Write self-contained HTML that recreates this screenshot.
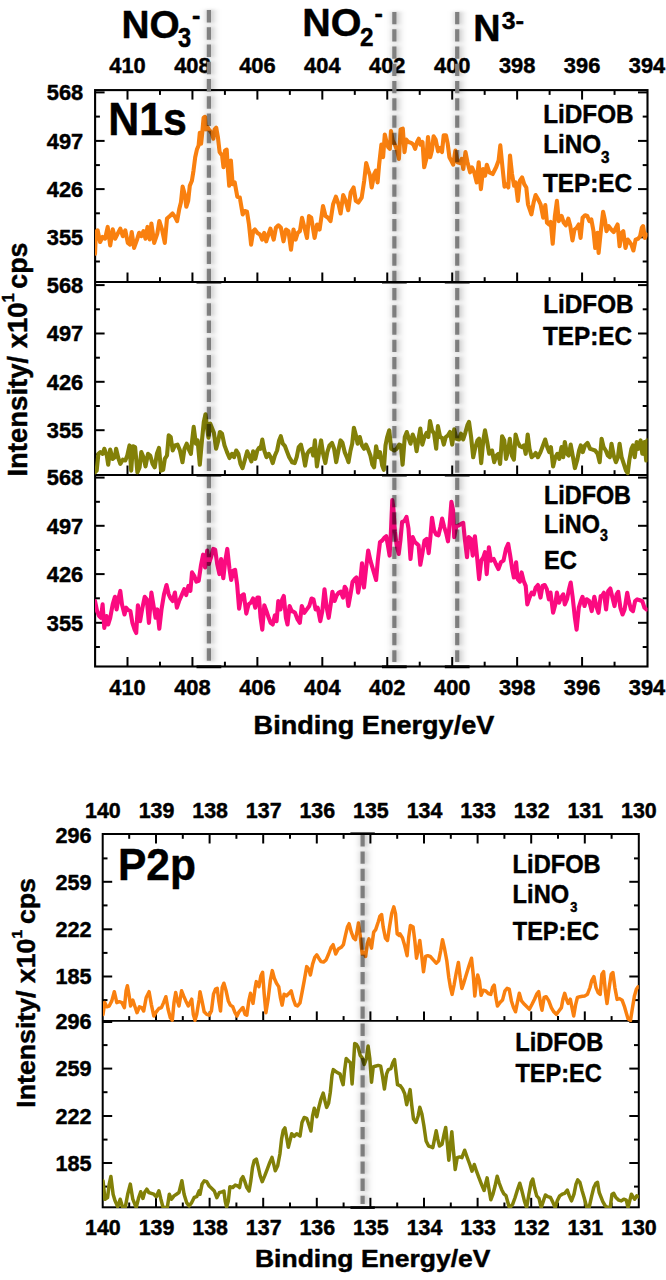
<!DOCTYPE html>
<html><head><meta charset="utf-8"><title>XPS spectra</title>
<style>html,body{margin:0;padding:0;background:#fff;}svg{display:block;}</style></head>
<body>
<svg width="666" height="1280" viewBox="0 0 666 1280" font-family="&apos;Liberation Sans&apos;, sans-serif" font-weight="bold" fill="#000">
<style>text{stroke:#000;stroke-width:0.45px;stroke-linejoin:round}</style>
<defs><filter id="bl" filterUnits="userSpaceOnUse" x="0" y="0" width="666" height="1280"><feGaussianBlur stdDeviation="2.4 1.2"/></filter>
<filter id="bl2" filterUnits="userSpaceOnUse" x="0" y="0" width="666" height="1280"><feGaussianBlur stdDeviation="3.2 1.5"/></filter>
<clipPath id="c1"><rect x="95" y="90" width="552.5" height="577"/></clipPath>
<clipPath id="c2a"><rect x="103" y="834" width="535.8" height="188.2"/></clipPath>
<clipPath id="c2b"><rect x="103" y="1020.7" width="535.8" height="187.2"/></clipPath>
<clipPath id="ctop"><rect x="0" y="0" width="666" height="92"/></clipPath>
<clipPath id="cbot"><rect x="0" y="92" width="666" height="1188"/></clipPath>
</defs>
<rect width="666" height="1280" fill="#fff"/>
<rect x="95.1" y="90.1" width="552.4" height="576.4" fill="none" stroke="#000" stroke-width="2.1"/>
<line x1="95.10" y1="282.00" x2="647.50" y2="282.00" stroke="#000" stroke-width="1.8" />
<line x1="95.10" y1="475.00" x2="647.50" y2="475.00" stroke="#000" stroke-width="1.8" />
<line x1="196.50" y1="282.30" x2="221.30" y2="282.30" stroke="#000" stroke-width="2.4" />
<line x1="196.50" y1="475.30" x2="221.30" y2="475.30" stroke="#000" stroke-width="2.4" />
<line x1="196.50" y1="666.80" x2="221.30" y2="666.80" stroke="#000" stroke-width="2.9" />
<line x1="381.95" y1="282.30" x2="406.75" y2="282.30" stroke="#000" stroke-width="2.4" />
<line x1="381.95" y1="475.30" x2="406.75" y2="475.30" stroke="#000" stroke-width="2.4" />
<line x1="381.95" y1="666.80" x2="406.75" y2="666.80" stroke="#000" stroke-width="2.9" />
<line x1="444.80" y1="282.30" x2="469.60" y2="282.30" stroke="#000" stroke-width="2.4" />
<line x1="444.80" y1="475.30" x2="469.60" y2="475.30" stroke="#000" stroke-width="2.4" />
<line x1="444.80" y1="666.80" x2="469.60" y2="666.80" stroke="#000" stroke-width="2.9" />
<line x1="614.55" y1="90.10" x2="614.55" y2="94.90" stroke="#000" stroke-width="2.0" />
<line x1="614.55" y1="282.00" x2="614.55" y2="277.20" stroke="#000" stroke-width="2.0" />
<line x1="614.55" y1="475.00" x2="614.55" y2="470.20" stroke="#000" stroke-width="2.0" />
<line x1="614.55" y1="666.50" x2="614.55" y2="661.70" stroke="#000" stroke-width="2.0" />
<line x1="582.08" y1="90.10" x2="582.08" y2="99.60" stroke="#000" stroke-width="2.0" />
<line x1="582.08" y1="282.00" x2="582.08" y2="272.50" stroke="#000" stroke-width="2.0" />
<line x1="582.08" y1="475.00" x2="582.08" y2="465.50" stroke="#000" stroke-width="2.0" />
<line x1="582.08" y1="666.50" x2="582.08" y2="657.00" stroke="#000" stroke-width="2.0" />
<line x1="549.61" y1="90.10" x2="549.61" y2="94.90" stroke="#000" stroke-width="2.0" />
<line x1="549.61" y1="282.00" x2="549.61" y2="277.20" stroke="#000" stroke-width="2.0" />
<line x1="549.61" y1="475.00" x2="549.61" y2="470.20" stroke="#000" stroke-width="2.0" />
<line x1="549.61" y1="666.50" x2="549.61" y2="661.70" stroke="#000" stroke-width="2.0" />
<line x1="517.14" y1="90.10" x2="517.14" y2="99.60" stroke="#000" stroke-width="2.0" />
<line x1="517.14" y1="282.00" x2="517.14" y2="272.50" stroke="#000" stroke-width="2.0" />
<line x1="517.14" y1="475.00" x2="517.14" y2="465.50" stroke="#000" stroke-width="2.0" />
<line x1="517.14" y1="666.50" x2="517.14" y2="657.00" stroke="#000" stroke-width="2.0" />
<line x1="484.67" y1="90.10" x2="484.67" y2="94.90" stroke="#000" stroke-width="2.0" />
<line x1="484.67" y1="282.00" x2="484.67" y2="277.20" stroke="#000" stroke-width="2.0" />
<line x1="484.67" y1="475.00" x2="484.67" y2="470.20" stroke="#000" stroke-width="2.0" />
<line x1="484.67" y1="666.50" x2="484.67" y2="661.70" stroke="#000" stroke-width="2.0" />
<line x1="452.20" y1="90.10" x2="452.20" y2="99.60" stroke="#000" stroke-width="2.0" />
<line x1="452.20" y1="282.00" x2="452.20" y2="272.50" stroke="#000" stroke-width="2.0" />
<line x1="452.20" y1="475.00" x2="452.20" y2="465.50" stroke="#000" stroke-width="2.0" />
<line x1="452.20" y1="666.50" x2="452.20" y2="657.00" stroke="#000" stroke-width="2.0" />
<line x1="419.73" y1="90.10" x2="419.73" y2="94.90" stroke="#000" stroke-width="2.0" />
<line x1="419.73" y1="282.00" x2="419.73" y2="277.20" stroke="#000" stroke-width="2.0" />
<line x1="419.73" y1="475.00" x2="419.73" y2="470.20" stroke="#000" stroke-width="2.0" />
<line x1="419.73" y1="666.50" x2="419.73" y2="661.70" stroke="#000" stroke-width="2.0" />
<line x1="387.26" y1="90.10" x2="387.26" y2="99.60" stroke="#000" stroke-width="2.0" />
<line x1="387.26" y1="282.00" x2="387.26" y2="272.50" stroke="#000" stroke-width="2.0" />
<line x1="387.26" y1="475.00" x2="387.26" y2="465.50" stroke="#000" stroke-width="2.0" />
<line x1="387.26" y1="666.50" x2="387.26" y2="657.00" stroke="#000" stroke-width="2.0" />
<line x1="354.79" y1="90.10" x2="354.79" y2="94.90" stroke="#000" stroke-width="2.0" />
<line x1="354.79" y1="282.00" x2="354.79" y2="277.20" stroke="#000" stroke-width="2.0" />
<line x1="354.79" y1="475.00" x2="354.79" y2="470.20" stroke="#000" stroke-width="2.0" />
<line x1="354.79" y1="666.50" x2="354.79" y2="661.70" stroke="#000" stroke-width="2.0" />
<line x1="322.32" y1="90.10" x2="322.32" y2="99.60" stroke="#000" stroke-width="2.0" />
<line x1="322.32" y1="282.00" x2="322.32" y2="272.50" stroke="#000" stroke-width="2.0" />
<line x1="322.32" y1="475.00" x2="322.32" y2="465.50" stroke="#000" stroke-width="2.0" />
<line x1="322.32" y1="666.50" x2="322.32" y2="657.00" stroke="#000" stroke-width="2.0" />
<line x1="289.85" y1="90.10" x2="289.85" y2="94.90" stroke="#000" stroke-width="2.0" />
<line x1="289.85" y1="282.00" x2="289.85" y2="277.20" stroke="#000" stroke-width="2.0" />
<line x1="289.85" y1="475.00" x2="289.85" y2="470.20" stroke="#000" stroke-width="2.0" />
<line x1="289.85" y1="666.50" x2="289.85" y2="661.70" stroke="#000" stroke-width="2.0" />
<line x1="257.38" y1="90.10" x2="257.38" y2="99.60" stroke="#000" stroke-width="2.0" />
<line x1="257.38" y1="282.00" x2="257.38" y2="272.50" stroke="#000" stroke-width="2.0" />
<line x1="257.38" y1="475.00" x2="257.38" y2="465.50" stroke="#000" stroke-width="2.0" />
<line x1="257.38" y1="666.50" x2="257.38" y2="657.00" stroke="#000" stroke-width="2.0" />
<line x1="224.91" y1="90.10" x2="224.91" y2="94.90" stroke="#000" stroke-width="2.0" />
<line x1="224.91" y1="282.00" x2="224.91" y2="277.20" stroke="#000" stroke-width="2.0" />
<line x1="224.91" y1="475.00" x2="224.91" y2="470.20" stroke="#000" stroke-width="2.0" />
<line x1="224.91" y1="666.50" x2="224.91" y2="661.70" stroke="#000" stroke-width="2.0" />
<line x1="192.44" y1="90.10" x2="192.44" y2="99.60" stroke="#000" stroke-width="2.0" />
<line x1="192.44" y1="282.00" x2="192.44" y2="272.50" stroke="#000" stroke-width="2.0" />
<line x1="192.44" y1="475.00" x2="192.44" y2="465.50" stroke="#000" stroke-width="2.0" />
<line x1="192.44" y1="666.50" x2="192.44" y2="657.00" stroke="#000" stroke-width="2.0" />
<line x1="159.97" y1="90.10" x2="159.97" y2="94.90" stroke="#000" stroke-width="2.0" />
<line x1="159.97" y1="282.00" x2="159.97" y2="277.20" stroke="#000" stroke-width="2.0" />
<line x1="159.97" y1="475.00" x2="159.97" y2="470.20" stroke="#000" stroke-width="2.0" />
<line x1="159.97" y1="666.50" x2="159.97" y2="661.70" stroke="#000" stroke-width="2.0" />
<line x1="127.50" y1="90.10" x2="127.50" y2="99.60" stroke="#000" stroke-width="2.0" />
<line x1="127.50" y1="282.00" x2="127.50" y2="272.50" stroke="#000" stroke-width="2.0" />
<line x1="127.50" y1="475.00" x2="127.50" y2="465.50" stroke="#000" stroke-width="2.0" />
<line x1="127.50" y1="666.50" x2="127.50" y2="657.00" stroke="#000" stroke-width="2.0" />
<line x1="95.10" y1="92.40" x2="104.60" y2="92.40" stroke="#000" stroke-width="2.0" />
<line x1="647.50" y1="92.40" x2="638.00" y2="92.40" stroke="#000" stroke-width="2.0" />
<line x1="95.10" y1="116.60" x2="99.90" y2="116.60" stroke="#000" stroke-width="2.0" />
<line x1="647.50" y1="116.60" x2="642.70" y2="116.60" stroke="#000" stroke-width="2.0" />
<line x1="95.10" y1="140.90" x2="104.60" y2="140.90" stroke="#000" stroke-width="2.0" />
<line x1="647.50" y1="140.90" x2="638.00" y2="140.90" stroke="#000" stroke-width="2.0" />
<line x1="95.10" y1="165.10" x2="99.90" y2="165.10" stroke="#000" stroke-width="2.0" />
<line x1="647.50" y1="165.10" x2="642.70" y2="165.10" stroke="#000" stroke-width="2.0" />
<line x1="95.10" y1="189.10" x2="104.60" y2="189.10" stroke="#000" stroke-width="2.0" />
<line x1="647.50" y1="189.10" x2="638.00" y2="189.10" stroke="#000" stroke-width="2.0" />
<line x1="95.10" y1="213.30" x2="99.90" y2="213.30" stroke="#000" stroke-width="2.0" />
<line x1="647.50" y1="213.30" x2="642.70" y2="213.30" stroke="#000" stroke-width="2.0" />
<line x1="95.10" y1="237.30" x2="104.60" y2="237.30" stroke="#000" stroke-width="2.0" />
<line x1="647.50" y1="237.30" x2="638.00" y2="237.30" stroke="#000" stroke-width="2.0" />
<line x1="95.10" y1="261.50" x2="99.90" y2="261.50" stroke="#000" stroke-width="2.0" />
<line x1="647.50" y1="261.50" x2="642.70" y2="261.50" stroke="#000" stroke-width="2.0" />
<line x1="95.10" y1="285.10" x2="104.60" y2="285.10" stroke="#000" stroke-width="2.0" />
<line x1="647.50" y1="285.10" x2="638.00" y2="285.10" stroke="#000" stroke-width="2.0" />
<line x1="95.10" y1="309.30" x2="99.90" y2="309.30" stroke="#000" stroke-width="2.0" />
<line x1="647.50" y1="309.30" x2="642.70" y2="309.30" stroke="#000" stroke-width="2.0" />
<line x1="95.10" y1="333.50" x2="104.60" y2="333.50" stroke="#000" stroke-width="2.0" />
<line x1="647.50" y1="333.50" x2="638.00" y2="333.50" stroke="#000" stroke-width="2.0" />
<line x1="95.10" y1="357.70" x2="99.90" y2="357.70" stroke="#000" stroke-width="2.0" />
<line x1="647.50" y1="357.70" x2="642.70" y2="357.70" stroke="#000" stroke-width="2.0" />
<line x1="95.10" y1="381.80" x2="104.60" y2="381.80" stroke="#000" stroke-width="2.0" />
<line x1="647.50" y1="381.80" x2="638.00" y2="381.80" stroke="#000" stroke-width="2.0" />
<line x1="95.10" y1="406.00" x2="99.90" y2="406.00" stroke="#000" stroke-width="2.0" />
<line x1="647.50" y1="406.00" x2="642.70" y2="406.00" stroke="#000" stroke-width="2.0" />
<line x1="95.10" y1="430.20" x2="104.60" y2="430.20" stroke="#000" stroke-width="2.0" />
<line x1="647.50" y1="430.20" x2="638.00" y2="430.20" stroke="#000" stroke-width="2.0" />
<line x1="95.10" y1="454.40" x2="99.90" y2="454.40" stroke="#000" stroke-width="2.0" />
<line x1="647.50" y1="454.40" x2="642.70" y2="454.40" stroke="#000" stroke-width="2.0" />
<line x1="95.10" y1="477.60" x2="104.60" y2="477.60" stroke="#000" stroke-width="2.0" />
<line x1="647.50" y1="477.60" x2="638.00" y2="477.60" stroke="#000" stroke-width="2.0" />
<line x1="95.10" y1="501.80" x2="99.90" y2="501.80" stroke="#000" stroke-width="2.0" />
<line x1="647.50" y1="501.80" x2="642.70" y2="501.80" stroke="#000" stroke-width="2.0" />
<line x1="95.10" y1="525.80" x2="104.60" y2="525.80" stroke="#000" stroke-width="2.0" />
<line x1="647.50" y1="525.80" x2="638.00" y2="525.80" stroke="#000" stroke-width="2.0" />
<line x1="95.10" y1="550.00" x2="99.90" y2="550.00" stroke="#000" stroke-width="2.0" />
<line x1="647.50" y1="550.00" x2="642.70" y2="550.00" stroke="#000" stroke-width="2.0" />
<line x1="95.10" y1="574.10" x2="104.60" y2="574.10" stroke="#000" stroke-width="2.0" />
<line x1="647.50" y1="574.10" x2="638.00" y2="574.10" stroke="#000" stroke-width="2.0" />
<line x1="95.10" y1="598.30" x2="99.90" y2="598.30" stroke="#000" stroke-width="2.0" />
<line x1="647.50" y1="598.30" x2="642.70" y2="598.30" stroke="#000" stroke-width="2.0" />
<line x1="95.10" y1="622.80" x2="104.60" y2="622.80" stroke="#000" stroke-width="2.0" />
<line x1="647.50" y1="622.80" x2="638.00" y2="622.80" stroke="#000" stroke-width="2.0" />
<line x1="95.10" y1="647.00" x2="99.90" y2="647.00" stroke="#000" stroke-width="2.0" />
<line x1="647.50" y1="647.00" x2="642.70" y2="647.00" stroke="#000" stroke-width="2.0" />
<g clip-path="url(#c1)">
<polyline points="95.0,253.8 95.9,232.0 97.6,230.3 100.1,242.0 102.6,237.0 105.1,238.7 107.7,226.9 110.2,245.4 112.7,229.4 115.2,238.7 117.7,233.6 120.3,228.6 122.8,236.2 125.3,230.3 127.8,242.9 130.0,244.6 131.7,232.0 134.1,247.9 136.8,240.4 139.1,232.8 141.3,236.2 143.5,231.1 145.5,238.7 147.5,226.9 149.7,239.5 151.4,223.5 154.2,242.9 157.3,233.6 159.3,221.0 162.0,229.4 164.8,242.9 167.0,218.5 169.9,216.0 172.5,213.5 175.0,216.9 177.1,221.1 179.2,209.3 180.9,202.6 182.6,186.6 184.8,194.2 186.3,206.8 188.2,200.9 189.8,185.8 191.9,180.7 193.5,170.6 195.2,157.2 196.9,149.6 198.6,145.4 199.8,132.8 201.1,143.7 202.5,130.3 203.6,117.7 205.0,116.8 205.8,129.4 207.3,126.9 209.5,130.3 212.0,133.6 213.4,138.7 214.6,129.4 216.2,127.7 217.9,137.0 219.6,152.1 222.1,155.5 223.5,167.3 225.0,150.5 226.7,149.6 228.0,170.6 229.2,185.8 230.9,160.5 232.6,184.1 234.7,182.4 237.3,196.7 239.8,197.5 242.7,214.4 244.8,211.0 247.0,211.8 249.0,224.5 251.1,244.6 253.2,231.2 254.9,229.5 257.5,232.9 260.0,234.5 262.2,239.6 264.2,232.9 266.2,241.3 268.4,234.5 270.4,228.7 273.7,239.6 275.9,227.8 278.4,225.3 280.9,227.8 283.5,241.3 286.0,229.5 288.5,231.2 291.0,249.7 293.5,229.5 295.6,239.6 297.7,232.9 299.9,231.2 302.0,217.7 304.5,227.8 307.0,237.9 309.0,216.0 311.2,217.7 314.6,237.9 317.1,224.5 319.6,229.5 323.0,206.0 325.5,216.0 328.0,217.7 330.5,221.1 333.1,204.3 335.9,196.7 338.6,204.3 340.6,213.5 343.2,195.0 345.7,200.9 348.2,210.2 350.7,192.5 353.6,187.5 355.8,200.9 358.3,202.6 361.7,197.5 364.2,180.7 366.2,163.1 368.4,170.6 370.1,175.7 371.7,187.5 372.0,185.8 374.2,174.0 375.9,170.6 377.6,182.4 379.2,163.9 381.4,144.6 383.1,157.2 384.8,134.5 386.5,142.0 388.2,147.1 389.8,148.8 391.0,131.1 392.7,140.4 395.2,145.4 397.2,150.5 398.9,158.9 400.6,129.4 402.8,128.6 404.5,152.1 406.2,139.5 408.3,142.0 411.2,142.9 413.4,144.6 415.1,148.8 417.1,142.0 418.8,138.7 420.5,144.6 422.5,142.0 424.2,167.3 426.3,158.9 428.0,137.0 430.2,157.2 431.9,150.5 433.6,136.2 435.6,139.5 438.1,151.3 440.3,147.9 442.0,152.1 443.7,135.3 446.0,135.3 447.7,143.7 449.4,157.2 451.6,161.4 453.2,164.7 455.4,150.5 457.5,162.2 460.0,163.1 461.7,158.9 463.3,169.0 465.5,152.1 467.5,162.2 470.1,172.3 472.0,167.3 474.2,172.3 476.7,182.4 478.7,162.2 480.9,189.1 483.1,169.0 485.1,175.7 486.8,164.7 489.3,172.3 492.7,174.0 496.1,167.3 498.6,160.5 500.3,145.4 502.3,165.6 504.5,186.6 506.7,184.1 508.3,187.5 510.0,155.5 512.0,174.0 514.1,185.8 515.7,182.4 517.9,200.9 519.9,180.7 522.1,177.4 524.2,184.1 526.3,187.5 528.0,204.3 531.4,214.4 533.6,202.6 535.6,195.0 538.1,199.2 540.6,204.3 543.2,217.7 545.3,205.1 547.0,222.8 549.0,224.5 550.7,221.9 552.7,243.8 554.9,216.0 556.9,200.9 558.8,221.1 561.6,216.0 563.8,222.8 565.8,225.3 568.3,218.6 570.3,226.1 572.5,240.4 574.5,229.5 576.7,227.8 578.7,224.5 580.6,237.9 582.6,217.7 585.1,215.2 587.3,216.0 589.3,221.1 591.3,219.4 593.5,231.2 595.2,248.0 597.4,232.9 598.6,253.0 600.8,231.2 603.1,211.8 604.8,219.4 606.5,231.2 608.7,226.1 611.2,229.5 613.7,232.0 615.9,227.8 617.6,224.5 619.6,246.3 621.6,232.9 623.3,231.2 625.5,248.0 627.7,239.6 629.7,242.1 631.4,244.6 633.4,250.5 635.6,239.6 638.1,238.7 640.1,236.2 641.8,227.8 643.1,226.1 644.8,237.9 646.5,234.5" fill="none" stroke="#F9800F" stroke-width="4.1" stroke-linejoin="round" stroke-linecap="round"/>
<polyline points="95.0,472.3 96.7,470.6 98.4,453.8 100.4,452.1 102.6,453.8 104.3,448.8 106.8,455.5 108.2,464.7 110.2,449.6 112.7,458.9 114.9,457.2 116.1,448.8 118.3,458.0 120.3,463.9 122.8,459.7 125.3,460.5 127.3,455.5 129.5,445.4 131.2,470.6 132.9,446.2 135.1,447.1 137.4,472.3 139.6,467.3 141.3,452.1 143.5,457.2 145.5,466.4 148.0,453.8 150.2,455.5 152.6,463.9 154.7,467.3 156.9,453.8 159.0,447.9 161.0,470.6 163.2,469.8 164.8,458.9 167.0,455.5 168.7,435.3 170.7,437.0 172.7,450.5 174.9,445.4 177.5,444.6 180.0,450.5 182.5,462.2 184.5,448.8 186.7,443.7 188.9,449.6 190.9,453.8 192.0,442.0 193.7,426.9 195.9,443.7 197.6,440.4 199.8,464.7 201.8,442.0 203.8,421.9 205.5,414.3 207.2,428.6 208.5,437.8 210.2,423.5 211.9,427.7 213.9,432.8 216.1,448.8 218.3,440.4 219.9,432.0 222.0,433.6 224.5,445.4 227.0,452.1 229.5,458.0 232.0,453.8 234.1,457.2 236.2,450.5 238.4,453.8 240.5,463.9 242.5,468.1 244.7,460.5 247.2,451.3 249.7,457.2 251.4,461.4 253.1,451.3 255.3,458.9 257.3,450.5 259.0,447.9 260.6,448.8 262.3,439.5 264.3,450.5 266.5,457.2 268.7,453.8 270.7,457.2 272.7,463.1 274.9,455.5 277.1,450.5 279.1,440.4 280.8,436.2 282.8,443.7 285.0,446.2 287.2,452.1 289.2,457.2 291.7,461.4 292.0,462.2 294.7,463.1 296.7,457.2 298.7,447.1 300.9,444.6 303.1,453.8 305.1,465.6 307.2,453.8 309.3,450.5 311.5,448.8 313.2,455.5 314.9,440.4 316.9,466.4 318.9,453.8 321.1,440.4 323.1,453.8 325.3,463.1 327.3,452.1 329.5,445.4 332.0,442.9 334.1,448.8 336.2,462.2 338.4,450.5 340.5,440.4 342.5,442.9 344.7,452.1 346.8,457.2 348.5,462.2 350.5,450.5 352.2,443.7 353.9,427.7 355.9,435.3 357.6,443.7 359.8,437.0 362.0,445.4 364.0,448.8 366.0,444.6 368.2,449.6 370.4,455.5 372.4,464.7 374.1,467.3 376.1,446.2 378.3,457.2 380.0,452.1 382.2,465.6 383.8,469.8 385.5,445.4 387.2,437.0 389.2,430.3 391.2,448.8 394.2,450.5 396.7,448.8 399.2,444.6 400.9,445.4 402.6,464.7 404.8,437.0 406.8,432.0 408.8,438.7 410.5,443.7 412.7,434.5 414.9,440.4 416.6,451.3 418.3,440.4 420.3,428.6 422.3,444.6 424.5,437.0 426.7,432.8 428.3,437.0 430.0,421.0 432.0,430.3 434.1,433.6 436.2,448.8 437.9,426.1 440.1,437.0 442.1,437.8 443.8,444.6 445.8,437.0 448.0,435.3 450.0,432.0 452.2,444.6 454.2,429.4 456.4,438.7 459.0,439.5 461.0,433.6 463.2,439.5 465.3,432.8 467.4,425.2 469.0,421.9 471.1,437.0 473.2,457.2 475.4,447.1 477.5,440.4 479.1,438.7 481.2,463.1 483.3,440.4 485.0,430.3 487.2,442.0 489.2,453.8 491.7,451.3 492.0,450.5 494.2,462.2 496.4,455.5 498.4,453.8 500.1,463.9 502.1,436.2 504.3,440.4 506.0,458.9 508.2,450.5 509.8,438.7 511.9,455.5 513.9,459.7 515.6,434.5 517.7,442.0 519.9,446.2 522.0,447.1 524.0,445.4 525.7,453.8 527.7,434.5 529.5,448.8 531.7,457.2 533.7,455.5 535.7,453.0 537.9,457.2 540.5,452.1 543.0,445.4 545.2,439.5 547.2,447.1 549.2,452.1 550.9,447.1 553.1,466.4 555.3,457.2 557.3,453.8 559.3,458.9 561.5,447.1 563.2,457.2 564.8,442.0 567.0,453.8 568.7,455.5 570.7,444.6 572.7,455.5 574.9,468.1 577.1,460.5 579.1,450.5 580.8,445.4 582.8,452.1 585.0,445.4 587.5,442.9 590.1,448.8 592.6,449.6 595.1,450.5 597.6,453.8 599.7,462.2 601.6,438.7 603.6,447.1 605.8,450.5 607.8,455.5 609.8,457.2 611.5,443.7 613.7,455.5 615.9,462.2 617.9,457.2 619.6,443.7 621.6,457.2 623.8,463.9 626.0,470.6 627.7,473.2 629.3,460.5 631.4,448.8 633.0,445.4 634.7,457.2 636.7,442.0 638.4,448.8 640.6,440.4 642.3,453.8 644.5,442.0 646.2,460.5 647.3,440.4" fill="none" stroke="#828008" stroke-width="4.1" stroke-linejoin="round" stroke-linecap="round"/>
<polyline points="95.0,601.0 97.1,611.1 99.2,616.1 100.9,617.8 102.6,604.4 104.3,627.9 106.5,616.1 108.2,624.5 110.2,617.8 112.7,604.4 114.9,596.8 116.6,609.4 118.3,599.3 120.3,590.9 122.0,604.4 124.5,614.5 126.2,607.7 128.3,610.2 130.4,611.1 132.4,622.9 134.6,629.6 136.2,633.0 137.9,605.2 140.1,621.2 142.1,609.4 144.7,596.8 146.8,599.3 148.9,622.9 151.4,592.6 153.6,606.0 155.6,617.8 157.3,609.4 159.3,628.7 161.5,609.4 164.0,594.3 166.5,585.0 168.7,594.3 170.7,598.5 172.7,601.0 174.9,592.6 176.9,607.7 179.1,601.0 181.7,595.1 184.2,589.2 186.2,595.1 188.4,585.9 190.4,590.9 192.0,572.4 194.2,575.8 196.4,581.7 198.7,580.8 200.9,565.7 203.1,554.7 205.1,567.4 207.2,550.5 208.8,564.0 211.0,557.3 213.2,548.9 215.2,549.7 217.2,564.0 219.4,574.1 221.1,559.0 223.3,578.3 225.3,560.6 227.3,548.9 229.5,569.0 231.2,580.0 233.4,570.7 235.1,569.9 237.1,584.2 239.1,608.6 241.3,596.0 243.8,594.3 246.3,613.6 248.5,604.4 250.9,602.7 253.1,598.5 255.3,607.7 257.3,597.6 259.0,597.6 260.6,617.8 262.3,629.6 264.3,605.2 266.5,611.1 268.7,617.8 270.7,622.9 272.7,624.5 274.9,615.3 276.6,621.2 278.3,601.0 280.5,609.4 282.2,599.3 283.8,596.0 285.9,617.8 287.5,624.5 289.6,606.0 291.7,611.1 292.5,611.1 295.0,612.8 297.6,619.5 299.8,622.9 301.8,606.0 304.3,612.8 306.8,609.4 309.3,606.0 311.5,598.5 313.5,599.3 315.6,609.4 317.7,607.7 320.3,621.2 322.3,611.1 324.5,589.2 326.7,607.7 328.7,617.8 330.7,604.4 332.4,591.7 334.6,601.0 336.8,595.1 338.8,592.6 340.8,591.7 343.0,597.6 344.7,586.7 346.3,589.2 348.4,606.0 350.5,594.3 352.6,581.7 354.7,579.1 356.4,577.5 358.1,592.6 360.3,580.8 362.0,563.2 364.0,587.5 366.0,569.0 368.2,550.5 370.4,560.6 372.4,567.4 374.4,574.1 376.1,580.0 377.8,560.6 380.0,542.1 382.2,540.5 384.2,537.9 386.2,536.2 387.9,545.5 389.6,555.6 390.9,532.0 392.3,500.1 393.4,508.5 394.6,527.0 395.0,532.0 396.7,545.5 398.7,553.9 400.4,540.5 402.1,522.0 404.3,521.1 406.5,516.9 408.5,528.7 410.5,559.0 412.7,537.1 414.9,542.1 416.9,543.8 418.6,545.5 420.3,564.8 422.3,553.9 424.5,540.5 426.7,538.8 428.7,553.1 430.4,537.1 432.0,517.7 434.1,530.4 436.2,534.6 438.4,535.4 440.5,527.0 442.1,518.6 444.2,527.0 446.3,533.7 448.0,541.3 449.7,523.6 451.4,501.8 453.1,510.2 454.2,537.1 456.4,526.2 459.0,525.3 461.5,523.6 463.2,522.8 464.8,538.8 467.0,557.3 468.7,537.1 470.7,538.8 472.7,555.6 474.9,536.2 477.1,557.3 479.1,579.1 481.2,560.6 483.3,557.3 485.0,552.2 486.7,574.1 488.9,547.2 490.9,560.6 493.7,559.0 495.9,564.0 498.4,569.0 500.9,562.3 503.5,560.6 506.0,548.9 508.2,543.8 510.2,555.6 512.2,569.0 513.9,577.5 516.1,562.3 517.7,579.1 519.9,581.7 521.6,572.4 523.6,580.8 525.7,585.9 527.3,604.4 529.5,597.6 531.7,592.6 533.7,594.3 535.7,587.5 537.9,585.0 540.5,597.6 542.5,585.9 544.7,585.0 546.8,589.2 548.9,599.3 550.5,592.6 553.1,612.8 555.3,604.4 556.9,592.6 559.0,602.7 561.0,597.6 563.2,594.3 564.8,604.4 567.0,599.3 569.0,589.2 570.7,582.5 572.7,597.6 574.9,617.8 576.6,629.6 578.8,607.7 580.8,601.0 582.5,596.8 584.5,606.0 586.7,599.3 589.2,601.0 591.7,611.1 594.3,596.8 596.3,606.0 598.5,612.8 600.7,596.0 601.9,596.0 603.9,592.7 606.1,609.5 608.2,591.0 610.3,588.5 612.5,597.7 614.5,606.1 616.6,594.4 618.2,591.8 620.4,607.8 622.6,614.5 624.6,609.5 627.2,592.7 628.8,601.1 631.0,609.5 633.0,611.2 635.1,601.1 637.2,599.4 639.8,600.2 642.3,601.1 644.5,607.8 646.5,609.5" fill="none" stroke="#FB0A80" stroke-width="4.1" stroke-linejoin="round" stroke-linecap="round"/>
</g>
<text transform="translate(647.02,73.30) scale(0.98,1)" font-size="22.3" text-anchor="middle" >394</text>
<text transform="translate(647.02,695.00) scale(0.98,1)" font-size="22.3" text-anchor="middle" >394</text>
<text transform="translate(582.08,73.30) scale(0.98,1)" font-size="22.3" text-anchor="middle" >396</text>
<text transform="translate(582.08,695.00) scale(0.98,1)" font-size="22.3" text-anchor="middle" >396</text>
<text transform="translate(517.14,73.30) scale(0.98,1)" font-size="22.3" text-anchor="middle" >398</text>
<text transform="translate(517.14,695.00) scale(0.98,1)" font-size="22.3" text-anchor="middle" >398</text>
<text transform="translate(452.20,73.30) scale(0.98,1)" font-size="22.3" text-anchor="middle" >400</text>
<text transform="translate(452.20,695.00) scale(0.98,1)" font-size="22.3" text-anchor="middle" >400</text>
<text transform="translate(387.26,73.30) scale(0.98,1)" font-size="22.3" text-anchor="middle" >402</text>
<text transform="translate(387.26,695.00) scale(0.98,1)" font-size="22.3" text-anchor="middle" >402</text>
<text transform="translate(322.32,73.30) scale(0.98,1)" font-size="22.3" text-anchor="middle" >404</text>
<text transform="translate(322.32,695.00) scale(0.98,1)" font-size="22.3" text-anchor="middle" >404</text>
<text transform="translate(257.38,73.30) scale(0.98,1)" font-size="22.3" text-anchor="middle" >406</text>
<text transform="translate(257.38,695.00) scale(0.98,1)" font-size="22.3" text-anchor="middle" >406</text>
<text transform="translate(192.44,73.30) scale(0.98,1)" font-size="22.3" text-anchor="middle" >408</text>
<text transform="translate(192.44,695.00) scale(0.98,1)" font-size="22.3" text-anchor="middle" >408</text>
<text transform="translate(127.50,73.30) scale(0.98,1)" font-size="22.3" text-anchor="middle" >410</text>
<text transform="translate(127.50,695.00) scale(0.98,1)" font-size="22.3" text-anchor="middle" >410</text>
<text transform="translate(83.20,100.10) scale(0.98,1)" font-size="22.3" text-anchor="end" >568</text>
<text transform="translate(83.20,148.60) scale(0.98,1)" font-size="22.3" text-anchor="end" >497</text>
<text transform="translate(83.20,196.80) scale(0.98,1)" font-size="22.3" text-anchor="end" >426</text>
<text transform="translate(83.20,245.00) scale(0.98,1)" font-size="22.3" text-anchor="end" >355</text>
<text transform="translate(83.20,292.80) scale(0.98,1)" font-size="22.3" text-anchor="end" >568</text>
<text transform="translate(83.20,341.20) scale(0.98,1)" font-size="22.3" text-anchor="end" >497</text>
<text transform="translate(83.20,389.50) scale(0.98,1)" font-size="22.3" text-anchor="end" >426</text>
<text transform="translate(83.20,437.90) scale(0.98,1)" font-size="22.3" text-anchor="end" >355</text>
<text transform="translate(83.20,485.30) scale(0.98,1)" font-size="22.3" text-anchor="end" >568</text>
<text transform="translate(83.20,533.50) scale(0.98,1)" font-size="22.3" text-anchor="end" >497</text>
<text transform="translate(83.20,581.80) scale(0.98,1)" font-size="22.3" text-anchor="end" >426</text>
<text transform="translate(83.20,630.50) scale(0.98,1)" font-size="22.3" text-anchor="end" >355</text>
<text transform="translate(121.40,37.90) scale(1.0,1)" font-size="38.8" text-anchor="start" >NO</text>
<text transform="translate(177.90,47.10) scale(0.88,1)" font-size="26.8" text-anchor="start" >3</text>
<text transform="translate(192.10,24.00) scale(1.0,1)" font-size="25" text-anchor="start" >-</text>
<text transform="translate(302.30,36.30) scale(1.03,1)" font-size="38.3" text-anchor="start" >NO</text>
<text transform="translate(360.00,45.50) scale(0.93,1)" font-size="26.2" text-anchor="start" >2</text>
<text transform="translate(374.40,22.40) scale(1.0,1)" font-size="25" text-anchor="start" >-</text>
<text transform="translate(473.20,40.70) scale(1.0,1)" font-size="37.8" text-anchor="start" >N</text>
<text transform="translate(501.80,28.80) scale(1.0,1)" font-size="24.8" text-anchor="start" >3</text>
<text transform="translate(515.60,28.90) scale(1.05,1)" font-size="24.5" text-anchor="start" >-</text>
<text transform="translate(108.20,134.80) scale(0.945,1)" font-size="45.4" text-anchor="start" >N1s</text>
<text transform="translate(543.20,122.90) scale(0.972,1)" font-size="25.0" text-anchor="start" >LiDFOB</text>
<text transform="translate(543.20,152.60) scale(0.972,1)" font-size="25.0" text-anchor="start" >LiNO</text>
<text transform="translate(600.90,162.90) scale(0.93,1)" font-size="16.4" text-anchor="start" >3</text>
<text transform="translate(543.00,191.90) scale(0.972,1)" font-size="25.0" text-anchor="start" >TEP:EC</text>
<text transform="translate(543.20,312.90) scale(0.972,1)" font-size="25.0" text-anchor="start" >LiDFOB</text>
<text transform="translate(543.00,344.80) scale(0.972,1)" font-size="25.0" text-anchor="start" >TEP:EC</text>
<text transform="translate(544.00,503.60) scale(0.935,1)" font-size="25.0" text-anchor="start" >LiDFOB</text>
<text transform="translate(544.00,533.40) scale(0.935,1)" font-size="25.0" text-anchor="start" >LiNO</text>
<text transform="translate(600.00,541.40) scale(0.9,1)" font-size="15.8" text-anchor="start" >3</text>
<text transform="translate(544.00,569.20) scale(0.95,1)" font-size="25.0" text-anchor="start" >EC</text>
<text transform="translate(253.60,733.50) scale(1.05,1)" font-size="25.8" text-anchor="start" >Binding Energy/eV</text>
<text transform="translate(27.4,476.6) rotate(-90)" font-size="27.5">Intensity/ x10<tspan dy="-13.7" font-size="16">1</tspan><tspan dy="13.7" dx="-2.7" font-size="26.8"> cps</tspan></text>
<line x1="210.40" y1="9.1" x2="210.40" y2="662.5" stroke="#000" stroke-opacity="0.075" stroke-width="11" filter="url(#bl2)"/>
<line x1="210.10" y1="10.1" x2="210.10" y2="661.5" stroke="#000" stroke-opacity="0.13" stroke-width="6.5" stroke-dasharray="12.3 4.95" filter="url(#bl)"/>
<line x1="208.90" y1="10.1" x2="208.90" y2="661.5" stroke="#808080" stroke-width="4.2" stroke-dasharray="12.3 4.95" clip-path="url(#ctop)"/>
<line x1="208.90" y1="10.1" x2="208.90" y2="661.5" stroke="#000" stroke-opacity="0.42" stroke-width="4.2" stroke-dasharray="12.3 4.95" clip-path="url(#cbot)"/>
<line x1="395.85" y1="10.9" x2="395.85" y2="663.0" stroke="#000" stroke-opacity="0.075" stroke-width="11" filter="url(#bl2)"/>
<line x1="395.55" y1="11.9" x2="395.55" y2="662.0" stroke="#000" stroke-opacity="0.13" stroke-width="6.5" stroke-dasharray="12.3 4.95" filter="url(#bl)"/>
<line x1="394.35" y1="11.9" x2="394.35" y2="662.0" stroke="#808080" stroke-width="4.2" stroke-dasharray="12.3 4.95" clip-path="url(#ctop)"/>
<line x1="394.35" y1="11.9" x2="394.35" y2="662.0" stroke="#000" stroke-opacity="0.42" stroke-width="4.2" stroke-dasharray="12.3 4.95" clip-path="url(#cbot)"/>
<line x1="458.70" y1="10.9" x2="458.70" y2="663.0" stroke="#000" stroke-opacity="0.075" stroke-width="11" filter="url(#bl2)"/>
<line x1="458.40" y1="11.9" x2="458.40" y2="662.0" stroke="#000" stroke-opacity="0.13" stroke-width="6.5" stroke-dasharray="12.3 4.95" filter="url(#bl)"/>
<line x1="457.20" y1="11.9" x2="457.20" y2="662.0" stroke="#808080" stroke-width="4.2" stroke-dasharray="12.3 4.95" clip-path="url(#ctop)"/>
<line x1="457.20" y1="11.9" x2="457.20" y2="662.0" stroke="#000" stroke-opacity="0.42" stroke-width="4.2" stroke-dasharray="12.3 4.95" clip-path="url(#cbot)"/>
<rect x="102.7" y="834.0" width="536.0999999999999" height="373.29999999999995" fill="none" stroke="#000" stroke-width="2.0"/>
<line x1="102.70" y1="1020.90" x2="638.80" y2="1020.90" stroke="#000" stroke-width="1.8" />
<line x1="350.40" y1="833.70" x2="374.80" y2="833.70" stroke="#000" stroke-width="2.6" />
<line x1="350.40" y1="1207.60" x2="374.80" y2="1207.60" stroke="#000" stroke-width="2.6" />
<line x1="129.20" y1="834.00" x2="129.20" y2="838.80" stroke="#000" stroke-width="2.0" />
<line x1="129.20" y1="1020.90" x2="129.20" y2="1016.10" stroke="#000" stroke-width="2.0" />
<line x1="129.20" y1="1207.30" x2="129.20" y2="1202.50" stroke="#000" stroke-width="2.0" />
<line x1="156.00" y1="834.00" x2="156.00" y2="843.50" stroke="#000" stroke-width="2.0" />
<line x1="156.00" y1="1020.90" x2="156.00" y2="1011.40" stroke="#000" stroke-width="2.0" />
<line x1="156.00" y1="1207.30" x2="156.00" y2="1197.80" stroke="#000" stroke-width="2.0" />
<line x1="182.80" y1="834.00" x2="182.80" y2="838.80" stroke="#000" stroke-width="2.0" />
<line x1="182.80" y1="1020.90" x2="182.80" y2="1016.10" stroke="#000" stroke-width="2.0" />
<line x1="182.80" y1="1207.30" x2="182.80" y2="1202.50" stroke="#000" stroke-width="2.0" />
<line x1="209.60" y1="834.00" x2="209.60" y2="843.50" stroke="#000" stroke-width="2.0" />
<line x1="209.60" y1="1020.90" x2="209.60" y2="1011.40" stroke="#000" stroke-width="2.0" />
<line x1="209.60" y1="1207.30" x2="209.60" y2="1197.80" stroke="#000" stroke-width="2.0" />
<line x1="236.40" y1="834.00" x2="236.40" y2="838.80" stroke="#000" stroke-width="2.0" />
<line x1="236.40" y1="1020.90" x2="236.40" y2="1016.10" stroke="#000" stroke-width="2.0" />
<line x1="236.40" y1="1207.30" x2="236.40" y2="1202.50" stroke="#000" stroke-width="2.0" />
<line x1="263.20" y1="834.00" x2="263.20" y2="843.50" stroke="#000" stroke-width="2.0" />
<line x1="263.20" y1="1020.90" x2="263.20" y2="1011.40" stroke="#000" stroke-width="2.0" />
<line x1="263.20" y1="1207.30" x2="263.20" y2="1197.80" stroke="#000" stroke-width="2.0" />
<line x1="290.00" y1="834.00" x2="290.00" y2="838.80" stroke="#000" stroke-width="2.0" />
<line x1="290.00" y1="1020.90" x2="290.00" y2="1016.10" stroke="#000" stroke-width="2.0" />
<line x1="290.00" y1="1207.30" x2="290.00" y2="1202.50" stroke="#000" stroke-width="2.0" />
<line x1="316.80" y1="834.00" x2="316.80" y2="843.50" stroke="#000" stroke-width="2.0" />
<line x1="316.80" y1="1020.90" x2="316.80" y2="1011.40" stroke="#000" stroke-width="2.0" />
<line x1="316.80" y1="1207.30" x2="316.80" y2="1197.80" stroke="#000" stroke-width="2.0" />
<line x1="343.60" y1="834.00" x2="343.60" y2="838.80" stroke="#000" stroke-width="2.0" />
<line x1="343.60" y1="1020.90" x2="343.60" y2="1016.10" stroke="#000" stroke-width="2.0" />
<line x1="343.60" y1="1207.30" x2="343.60" y2="1202.50" stroke="#000" stroke-width="2.0" />
<line x1="370.40" y1="834.00" x2="370.40" y2="843.50" stroke="#000" stroke-width="2.0" />
<line x1="370.40" y1="1020.90" x2="370.40" y2="1011.40" stroke="#000" stroke-width="2.0" />
<line x1="370.40" y1="1207.30" x2="370.40" y2="1197.80" stroke="#000" stroke-width="2.0" />
<line x1="397.20" y1="834.00" x2="397.20" y2="838.80" stroke="#000" stroke-width="2.0" />
<line x1="397.20" y1="1020.90" x2="397.20" y2="1016.10" stroke="#000" stroke-width="2.0" />
<line x1="397.20" y1="1207.30" x2="397.20" y2="1202.50" stroke="#000" stroke-width="2.0" />
<line x1="424.00" y1="834.00" x2="424.00" y2="843.50" stroke="#000" stroke-width="2.0" />
<line x1="424.00" y1="1020.90" x2="424.00" y2="1011.40" stroke="#000" stroke-width="2.0" />
<line x1="424.00" y1="1207.30" x2="424.00" y2="1197.80" stroke="#000" stroke-width="2.0" />
<line x1="450.80" y1="834.00" x2="450.80" y2="838.80" stroke="#000" stroke-width="2.0" />
<line x1="450.80" y1="1020.90" x2="450.80" y2="1016.10" stroke="#000" stroke-width="2.0" />
<line x1="450.80" y1="1207.30" x2="450.80" y2="1202.50" stroke="#000" stroke-width="2.0" />
<line x1="477.60" y1="834.00" x2="477.60" y2="843.50" stroke="#000" stroke-width="2.0" />
<line x1="477.60" y1="1020.90" x2="477.60" y2="1011.40" stroke="#000" stroke-width="2.0" />
<line x1="477.60" y1="1207.30" x2="477.60" y2="1197.80" stroke="#000" stroke-width="2.0" />
<line x1="504.40" y1="834.00" x2="504.40" y2="838.80" stroke="#000" stroke-width="2.0" />
<line x1="504.40" y1="1020.90" x2="504.40" y2="1016.10" stroke="#000" stroke-width="2.0" />
<line x1="504.40" y1="1207.30" x2="504.40" y2="1202.50" stroke="#000" stroke-width="2.0" />
<line x1="531.20" y1="834.00" x2="531.20" y2="843.50" stroke="#000" stroke-width="2.0" />
<line x1="531.20" y1="1020.90" x2="531.20" y2="1011.40" stroke="#000" stroke-width="2.0" />
<line x1="531.20" y1="1207.30" x2="531.20" y2="1197.80" stroke="#000" stroke-width="2.0" />
<line x1="558.00" y1="834.00" x2="558.00" y2="838.80" stroke="#000" stroke-width="2.0" />
<line x1="558.00" y1="1020.90" x2="558.00" y2="1016.10" stroke="#000" stroke-width="2.0" />
<line x1="558.00" y1="1207.30" x2="558.00" y2="1202.50" stroke="#000" stroke-width="2.0" />
<line x1="584.80" y1="834.00" x2="584.80" y2="843.50" stroke="#000" stroke-width="2.0" />
<line x1="584.80" y1="1020.90" x2="584.80" y2="1011.40" stroke="#000" stroke-width="2.0" />
<line x1="584.80" y1="1207.30" x2="584.80" y2="1197.80" stroke="#000" stroke-width="2.0" />
<line x1="611.60" y1="834.00" x2="611.60" y2="838.80" stroke="#000" stroke-width="2.0" />
<line x1="611.60" y1="1020.90" x2="611.60" y2="1016.10" stroke="#000" stroke-width="2.0" />
<line x1="611.60" y1="1207.30" x2="611.60" y2="1202.50" stroke="#000" stroke-width="2.0" />
<line x1="102.70" y1="858.40" x2="107.50" y2="858.40" stroke="#000" stroke-width="2.0" />
<line x1="638.80" y1="858.40" x2="634.00" y2="858.40" stroke="#000" stroke-width="2.0" />
<line x1="102.70" y1="881.80" x2="112.20" y2="881.80" stroke="#000" stroke-width="2.0" />
<line x1="638.80" y1="881.80" x2="629.30" y2="881.80" stroke="#000" stroke-width="2.0" />
<line x1="102.70" y1="905.40" x2="107.50" y2="905.40" stroke="#000" stroke-width="2.0" />
<line x1="638.80" y1="905.40" x2="634.00" y2="905.40" stroke="#000" stroke-width="2.0" />
<line x1="102.70" y1="929.30" x2="112.20" y2="929.30" stroke="#000" stroke-width="2.0" />
<line x1="638.80" y1="929.30" x2="629.30" y2="929.30" stroke="#000" stroke-width="2.0" />
<line x1="102.70" y1="952.90" x2="107.50" y2="952.90" stroke="#000" stroke-width="2.0" />
<line x1="638.80" y1="952.90" x2="634.00" y2="952.90" stroke="#000" stroke-width="2.0" />
<line x1="102.70" y1="976.50" x2="112.20" y2="976.50" stroke="#000" stroke-width="2.0" />
<line x1="638.80" y1="976.50" x2="629.30" y2="976.50" stroke="#000" stroke-width="2.0" />
<line x1="102.70" y1="1000.10" x2="107.50" y2="1000.10" stroke="#000" stroke-width="2.0" />
<line x1="638.80" y1="1000.10" x2="634.00" y2="1000.10" stroke="#000" stroke-width="2.0" />
<line x1="102.70" y1="1022.00" x2="112.20" y2="1022.00" stroke="#000" stroke-width="2.0" />
<line x1="638.80" y1="1022.00" x2="629.30" y2="1022.00" stroke="#000" stroke-width="2.0" />
<line x1="102.70" y1="1045.10" x2="107.50" y2="1045.10" stroke="#000" stroke-width="2.0" />
<line x1="638.80" y1="1045.10" x2="634.00" y2="1045.10" stroke="#000" stroke-width="2.0" />
<line x1="102.70" y1="1068.60" x2="112.20" y2="1068.60" stroke="#000" stroke-width="2.0" />
<line x1="638.80" y1="1068.60" x2="629.30" y2="1068.60" stroke="#000" stroke-width="2.0" />
<line x1="102.70" y1="1092.20" x2="107.50" y2="1092.20" stroke="#000" stroke-width="2.0" />
<line x1="638.80" y1="1092.20" x2="634.00" y2="1092.20" stroke="#000" stroke-width="2.0" />
<line x1="102.70" y1="1116.00" x2="112.20" y2="1116.00" stroke="#000" stroke-width="2.0" />
<line x1="638.80" y1="1116.00" x2="629.30" y2="1116.00" stroke="#000" stroke-width="2.0" />
<line x1="102.70" y1="1139.60" x2="107.50" y2="1139.60" stroke="#000" stroke-width="2.0" />
<line x1="638.80" y1="1139.60" x2="634.00" y2="1139.60" stroke="#000" stroke-width="2.0" />
<line x1="102.70" y1="1163.00" x2="112.20" y2="1163.00" stroke="#000" stroke-width="2.0" />
<line x1="638.80" y1="1163.00" x2="629.30" y2="1163.00" stroke="#000" stroke-width="2.0" />
<line x1="102.70" y1="1186.60" x2="107.50" y2="1186.60" stroke="#000" stroke-width="2.0" />
<line x1="638.80" y1="1186.60" x2="634.00" y2="1186.60" stroke="#000" stroke-width="2.0" />
<g clip-path="url(#c2a)">
<polyline points="103.0,1014.4 104.7,1002.6 106.7,1006.8 109.2,1006.0 111.8,1000.9 114.3,991.7 116.8,1002.6 119.3,1001.7 121.9,1002.6 124.4,1007.6 126.1,990.8 127.4,985.8 128.9,994.2 130.6,1006.0 132.8,1000.1 135.0,1006.8 137.0,1012.7 139.5,1006.8 141.7,1007.6 143.7,1011.0 146.2,997.5 149.1,991.7 151.3,1004.3 153.8,1016.0 156.3,1011.8 158.9,1008.5 161.4,1007.6 163.6,1002.6 165.9,996.7 168.1,1009.3 170.3,1017.7 172.3,1020.2 174.0,1002.6 175.7,992.5 177.4,1000.9 179.0,1006.0 181.6,990.8 183.6,995.9 185.8,1000.9 188.3,1006.0 191.7,999.2 193.3,1014.4 195.0,1020.2 196.7,1014.4 199.2,999.2 200.0,991.7 202.0,1000.9 204.2,1011.8 206.7,1014.4 209.2,1015.2 211.4,1011.0 213.5,994.2 215.5,989.1 217.2,988.3 218.8,1000.9 220.5,1011.0 222.2,987.5 223.9,983.2 226.1,990.8 228.3,1000.9 230.3,1005.1 232.8,1006.8 235.0,1012.7 237.0,1016.0 239.0,1011.8 241.2,1009.3 242.9,1007.6 245.1,1014.4 246.8,1015.2 248.8,1000.9 250.5,993.3 253.0,1003.4 255.2,987.5 256.3,981.6 258.9,986.6 260.9,975.7 262.6,972.3 264.2,994.2 265.9,1012.7 268.1,999.2 270.3,980.7 272.3,970.6 274.3,978.2 276.5,983.2 278.7,986.6 280.4,997.5 282.1,1005.1 284.1,994.2 286.6,995.9 289.1,993.3 291.2,990.8 293.3,999.2 295.5,1005.1 297.5,1006.0 300.0,1002.8 302.0,992.7 304.2,980.9 306.7,966.6 308.7,969.1 310.4,975.0 312.6,964.1 314.8,957.4 316.8,954.8 318.8,958.2 321.0,961.6 323.5,962.1 326.1,959.9 328.6,954.0 331.1,947.3 333.1,944.7 335.7,954.0 338.3,949.0 341.2,947.3 343.4,944.7 345.4,935.5 347.4,927.1 349.1,923.7 351.3,932.1 353.5,938.0 355.5,939.7 357.2,930.5 358.5,922.9 360.2,935.5 362.2,954.0 363.9,952.3 365.6,956.5 367.3,943.9 369.0,938.9 371.5,948.1 373.7,932.1 375.7,929.6 378.2,922.0 379.9,916.2 381.6,914.5 383.2,927.1 385.4,938.0 387.5,940.5 389.5,927.1 391.7,913.6 393.8,906.9 395.5,913.6 397.2,933.8 399.2,935.5 400.0,933.8 402.5,938.0 404.7,945.6 407.1,955.7 408.7,937.2 410.4,925.4 413.1,927.1 414.8,940.5 416.5,958.2 418.2,949.8 419.8,940.5 421.9,957.4 423.5,971.7 425.6,956.5 427.7,955.7 430.3,956.5 433.3,959.9 436.2,963.2 438.7,960.7 440.7,950.6 442.5,939.7 444.6,949.0 446.8,960.7 448.8,977.5 450.5,987.6 452.1,994.4 454.2,984.3 456.3,972.5 458.4,962.4 460.2,977.5 461.9,988.5 463.9,982.6 466.4,974.2 469.0,965.8 471.5,958.2 473.2,974.2 474.8,996.0 476.5,980.9 477.7,975.0 479.4,980.9 481.1,995.2 483.2,990.2 485.8,991.0 488.3,993.5 490.8,994.4 492.5,987.6 494.2,985.1 495.9,997.7 497.5,1006.1 500.0,1002.6 502.5,1000.1 505.0,990.8 507.1,988.3 509.2,989.1 511.4,1000.9 513.5,1007.6 515.5,1011.8 517.7,1000.9 519.3,993.3 521.5,1000.9 524.4,1004.3 526.9,1006.8 529.4,1009.3 532.0,1004.3 534.5,999.2 536.7,994.2 538.7,991.7 540.7,1004.3 542.0,1010.2 544.1,997.5 546.2,996.7 548.8,1000.9 551.3,1007.6 553.8,1011.8 556.3,1014.4 558.9,1011.0 561.4,1007.6 563.1,998.4 564.7,993.3 566.4,999.2 568.1,1003.4 570.3,999.2 572.0,1007.6 573.7,1016.0 575.7,1004.3 577.4,997.5 579.9,996.7 582.4,996.2 584.9,995.9 587.5,994.2 590.0,987.5 591.7,980.7 593.9,976.7 596.0,987.6 598.1,992.7 600.2,994.4 601.9,974.2 603.6,971.7 605.3,991.0 607.0,1003.6 609.2,987.6 611.2,974.2 612.9,972.5 614.9,987.6 617.1,999.4 619.6,998.6 622.1,1000.2 624.3,1006.1 626.3,1012.9 628.0,1018.7 630.5,1020.4 632.2,1009.5 634.4,996.0 636.4,989.3 638.1,986.8" fill="none" stroke="#F9800F" stroke-width="3.5" stroke-linejoin="round" stroke-linecap="round"/>
</g><g clip-path="url(#c2b)">
<polyline points="103.0,1180.7 105.0,1199.2 107.6,1197.5 109.2,1184.1 110.9,1176.5 113.1,1194.2 115.1,1200.9 117.7,1206.8 120.2,1199.2 122.7,1207.6 125.2,1207.6 127.7,1194.2 130.3,1184.1 132.8,1199.2 136.2,1207.6 138.7,1197.5 140.7,1191.7 142.9,1198.4 144.6,1192.5 146.8,1189.1 148.8,1192.5 151.3,1193.3 153.8,1194.2 156.3,1196.7 158.9,1190.8 160.9,1199.2 163.1,1207.6 167.3,1207.6 169.3,1194.2 171.5,1199.2 174.0,1195.9 176.5,1194.2 179.0,1192.5 181.9,1180.7 184.1,1194.2 186.6,1202.6 189.1,1206.0 191.7,1202.6 194.2,1197.5 196.7,1196.7 199.2,1190.8 200.0,1194.4 202.0,1184.3 204.2,1180.9 206.7,1181.7 209.2,1186.0 211.8,1188.5 214.3,1191.0 216.8,1197.7 219.3,1192.7 221.9,1191.8 223.9,1191.0 225.2,1201.1 226.6,1207.0 228.3,1201.1 229.9,1186.8 232.8,1187.6 235.3,1185.1 237.8,1186.0 239.5,1187.6 241.2,1179.2 242.9,1176.7 244.6,1180.9 246.8,1187.6 249.1,1191.0 250.8,1180.9 252.5,1167.5 254.2,1160.7 256.3,1159.0 258.0,1165.8 260.2,1175.9 262.2,1181.7 264.7,1175.9 267.3,1169.1 269.8,1162.4 272.0,1157.4 273.7,1164.1 275.3,1170.8 277.7,1165.8 279.9,1154.0 281.6,1138.9 283.2,1130.5 284.9,1127.9 286.6,1137.2 288.3,1147.3 290.0,1140.5 291.7,1133.8 294.2,1136.3 296.7,1133.8 300.0,1136.0 302.0,1122.5 304.2,1117.5 306.7,1118.3 308.7,1124.2 310.9,1131.0 312.6,1115.8 314.3,1108.2 316.8,1116.7 318.8,1107.4 321.0,1099.0 323.2,1093.1 324.9,1100.7 326.6,1107.4 328.6,1103.2 330.3,1092.3 332.0,1075.5 333.3,1069.6 335.3,1071.2 337.8,1072.9 340.0,1073.8 341.7,1080.5 343.1,1084.7 344.6,1070.4 346.2,1058.6 348.8,1061.2 350.5,1062.8 352.1,1083.9 353.5,1063.7 354.7,1043.5 356.3,1044.3 358.0,1046.9 360.2,1055.3 362.2,1057.8 364.2,1064.5 366.4,1058.6 368.1,1046.0 369.8,1058.6 371.5,1082.2 373.2,1067.0 375.3,1066.2 378.2,1065.4 380.7,1066.2 382.4,1075.5 384.4,1088.9 386.6,1073.8 388.3,1069.6 390.8,1068.7 392.8,1062.8 394.5,1059.5 396.2,1073.8 397.5,1084.7 399.6,1085.5 400.0,1085.4 402.5,1088.8 404.7,1093.8 406.7,1104.7 408.4,1097.2 410.1,1089.6 411.8,1105.6 413.5,1119.0 416.0,1122.4 418.2,1115.7 419.8,1107.3 421.9,1114.0 423.9,1125.8 426.1,1140.9 428.6,1146.0 431.1,1146.8 432.8,1147.6 434.5,1139.2 436.2,1130.8 437.8,1139.2 439.5,1146.0 442.0,1144.3 444.1,1134.2 445.7,1127.5 447.4,1144.3 448.8,1160.2 450.5,1144.3 451.8,1131.7 453.5,1151.0 455.2,1169.5 457.2,1157.7 459.7,1156.9 461.9,1157.7 464.7,1150.2 467.3,1157.7 469.8,1164.5 472.0,1171.2 474.3,1164.5 476.5,1171.2 479.0,1177.9 481.6,1184.6 484.1,1190.5 485.8,1183.0 487.1,1177.9 488.8,1188.0 490.8,1199.8 492.8,1194.7 495.0,1186.3 497.2,1176.2 499.2,1183.0 501.7,1189.7 503.9,1193.9 506.0,1195.6 507.6,1201.5 509.3,1207.3 510.1,1207.6 512.6,1204.3 515.1,1197.5 517.7,1189.1 519.8,1183.2 521.9,1190.8 524.4,1200.9 526.6,1207.6 528.9,1194.2 531.1,1182.4 532.8,1179.0 534.5,1187.5 536.7,1195.9 539.0,1198.4 541.2,1207.6 543.4,1200.9 545.4,1195.0 547.9,1196.7 550.5,1197.5 553.0,1202.6 555.2,1207.6 557.2,1200.9 559.7,1195.9 562.2,1194.2 564.7,1193.3 567.3,1190.0 569.3,1195.9 571.5,1200.9 574.0,1194.2 576.0,1184.1 577.7,1179.9 579.9,1182.4 582.1,1190.8 584.1,1197.5 586.6,1206.8 589.1,1207.6 591.7,1195.9 593.8,1187.5 595.9,1183.2 597.5,1182.4 599.2,1192.5 602.8,1201.7 605.3,1206.0 607.8,1207.6 610.3,1206.8 612.0,1194.2 613.7,1193.3 615.9,1197.5 618.7,1200.1 621.3,1200.9 623.8,1199.2 626.3,1200.1 628.0,1207.6 629.7,1200.9 631.4,1194.2 633.0,1196.7 634.7,1199.2 636.7,1195.9 638.4,1196.7" fill="none" stroke="#828008" stroke-width="3.5" stroke-linejoin="round" stroke-linecap="round"/>
</g>
<text transform="translate(638.90,817.90) scale(0.96,1)" font-size="22.3" text-anchor="middle" >130</text>
<text transform="translate(638.90,1234.90) scale(0.96,1)" font-size="22.3" text-anchor="middle" >130</text>
<text transform="translate(585.30,817.90) scale(0.96,1)" font-size="22.3" text-anchor="middle" >131</text>
<text transform="translate(585.30,1234.90) scale(0.96,1)" font-size="22.3" text-anchor="middle" >131</text>
<text transform="translate(531.70,817.90) scale(0.96,1)" font-size="22.3" text-anchor="middle" >132</text>
<text transform="translate(531.70,1234.90) scale(0.96,1)" font-size="22.3" text-anchor="middle" >132</text>
<text transform="translate(478.10,817.90) scale(0.96,1)" font-size="22.3" text-anchor="middle" >133</text>
<text transform="translate(478.10,1234.90) scale(0.96,1)" font-size="22.3" text-anchor="middle" >133</text>
<text transform="translate(424.50,817.90) scale(0.96,1)" font-size="22.3" text-anchor="middle" >134</text>
<text transform="translate(424.50,1234.90) scale(0.96,1)" font-size="22.3" text-anchor="middle" >134</text>
<text transform="translate(370.90,817.90) scale(0.96,1)" font-size="22.3" text-anchor="middle" >135</text>
<text transform="translate(370.90,1234.90) scale(0.96,1)" font-size="22.3" text-anchor="middle" >135</text>
<text transform="translate(317.30,817.90) scale(0.96,1)" font-size="22.3" text-anchor="middle" >136</text>
<text transform="translate(317.30,1234.90) scale(0.96,1)" font-size="22.3" text-anchor="middle" >136</text>
<text transform="translate(263.70,817.90) scale(0.96,1)" font-size="22.3" text-anchor="middle" >137</text>
<text transform="translate(263.70,1234.90) scale(0.96,1)" font-size="22.3" text-anchor="middle" >137</text>
<text transform="translate(210.10,817.90) scale(0.96,1)" font-size="22.3" text-anchor="middle" >138</text>
<text transform="translate(210.10,1234.90) scale(0.96,1)" font-size="22.3" text-anchor="middle" >138</text>
<text transform="translate(156.50,817.90) scale(0.96,1)" font-size="22.3" text-anchor="middle" >139</text>
<text transform="translate(156.50,1234.90) scale(0.96,1)" font-size="22.3" text-anchor="middle" >139</text>
<text transform="translate(102.90,817.90) scale(0.96,1)" font-size="22.3" text-anchor="middle" >140</text>
<text transform="translate(102.90,1234.90) scale(0.96,1)" font-size="22.3" text-anchor="middle" >140</text>
<text transform="translate(91.60,842.50) scale(0.97,1)" font-size="22.3" text-anchor="end" >296</text>
<text transform="translate(91.60,889.50) scale(0.97,1)" font-size="22.3" text-anchor="end" >259</text>
<text transform="translate(91.60,937.00) scale(0.97,1)" font-size="22.3" text-anchor="end" >222</text>
<text transform="translate(91.60,984.20) scale(0.97,1)" font-size="22.3" text-anchor="end" >185</text>
<text transform="translate(91.60,1029.20) scale(0.97,1)" font-size="22.3" text-anchor="end" >296</text>
<text transform="translate(91.60,1076.30) scale(0.97,1)" font-size="22.3" text-anchor="end" >259</text>
<text transform="translate(91.60,1123.70) scale(0.97,1)" font-size="22.3" text-anchor="end" >222</text>
<text transform="translate(91.60,1170.70) scale(0.97,1)" font-size="22.3" text-anchor="end" >185</text>
<text transform="translate(118.00,880.40) scale(0.965,1)" font-size="44.0" text-anchor="start" >P2p</text>
<text transform="translate(512.60,872.80) scale(0.925,1)" font-size="25.6" text-anchor="start" >LiDFOB</text>
<text transform="translate(512.60,903.20) scale(0.925,1)" font-size="25.6" text-anchor="start" >LiNO</text>
<text transform="translate(570.30,912.00) scale(0.88,1)" font-size="14.6" text-anchor="start" >3</text>
<text transform="translate(512.80,940.20) scale(0.92,1)" font-size="25.6" text-anchor="start" >TEP:EC</text>
<text transform="translate(515.20,1051.00) scale(0.925,1)" font-size="25.6" text-anchor="start" >LiDFOB</text>
<text transform="translate(515.40,1082.00) scale(0.92,1)" font-size="25.6" text-anchor="start" >TEP:EC</text>
<text transform="translate(255.00,1267.30) scale(1.104,1)" font-size="24.0" text-anchor="start" >Binding Energy/eV</text>
<text transform="translate(35.1,1107.7) rotate(-90)" font-size="26.7">Intensity/ x10<tspan dy="-13.1" font-size="15.5">1</tspan><tspan dy="13.1" dx="-1.5" font-size="26.7"> cps</tspan></text>
<line x1="364.10" y1="833.2" x2="364.10" y2="1205" stroke="#000" stroke-opacity="0.075" stroke-width="11" filter="url(#bl2)"/>
<line x1="363.80" y1="834.2" x2="363.80" y2="1204" stroke="#000" stroke-opacity="0.13" stroke-width="6.5" stroke-dasharray="12.3 4.92" filter="url(#bl)"/>
<line x1="362.60" y1="834.2" x2="362.60" y2="1204" stroke="#000" stroke-opacity="0.42" stroke-width="4.2" stroke-dasharray="12.3 4.92"/>
</svg>
</body></html>
